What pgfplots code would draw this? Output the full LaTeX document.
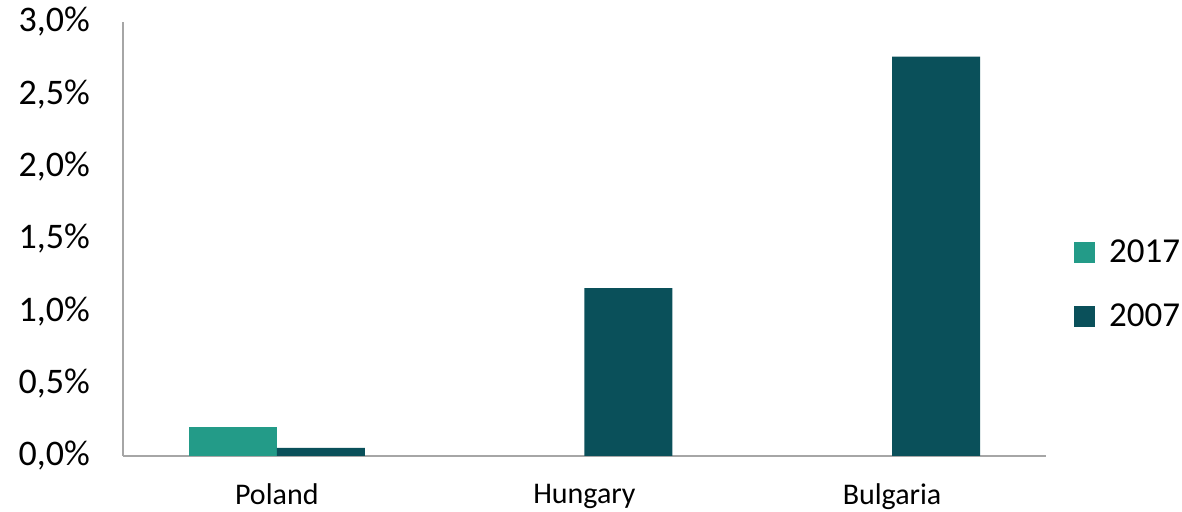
\documentclass[border=0pt]{standalone}
\usepackage{pgfplots}
\pgfplotsset{compat=1.18}
\usepackage{fontspec}
\setmainfont{Carlito}
\definecolor{teal17}{RGB}{35,155,136}
\definecolor{teal07}{RGB}{10,80,90}
\definecolor{axgray}{RGB}{166,166,166}

\begin{document}
\begin{tikzpicture}
\begin{axis}[
  scale only axis, width=923pt, height=434pt,
  xmin=-0.5, xmax=2.5, ymin=0, ymax=3,
  ybar, bar width=88pt,
  axis x line*=bottom, axis y line*=left,
  axis line style={draw=axgray, line width=1.5pt},
  xtick={0,1,2}, xticklabels={Poland,Hungary,Bulgaria},
  ytick={0,0.5,1,1.5,2,2.5,3},
  yticklabels={{0,0\%},{0,5\%},{1,0\%},{1,5\%},{2,0\%},{2,5\%},{3,0\%}},
  tick style={draw=none}, major tick length=0pt,
  yticklabel style={font=\fontsize{36}{40}\selectfont, inner sep=0pt, xshift=-33pt},
  xticklabel style={font=\fontsize{30}{34}\selectfont, inner sep=0pt, yshift=-28pt},
  legend style={draw=none, fill=none, at={(rel axis cs:1,0.396)}, anchor=west,
    xshift=28pt, inner sep=0pt, row sep=36pt,
    font=\fontsize{35}{40}\selectfont,
    /tikz/every odd column/.append style={column sep=12pt}},
  legend cell align=left,
  legend image code/.code={\fill[#1] (0pt,-10.5pt) rectangle (21pt,10.5pt);},
]
% share in 2017 (only Poland reported)
\addplot[fill=teal17, draw=none, bar shift=-44pt] coordinates {(0,0.20)};
% share in 2007
\addplot[fill=teal07, draw=none, bar shift=44pt] coordinates {(0,0.055) (1,1.16) (2,2.76)};
\legend{2017,2007}
\coordinate (O) at (rel axis cs:0,0);
\end{axis}
\path[use as bounding box] ([shift={(-123pt,-56pt)}]O) rectangle ++(1182pt,512pt);
\end{tikzpicture}
\end{document}
